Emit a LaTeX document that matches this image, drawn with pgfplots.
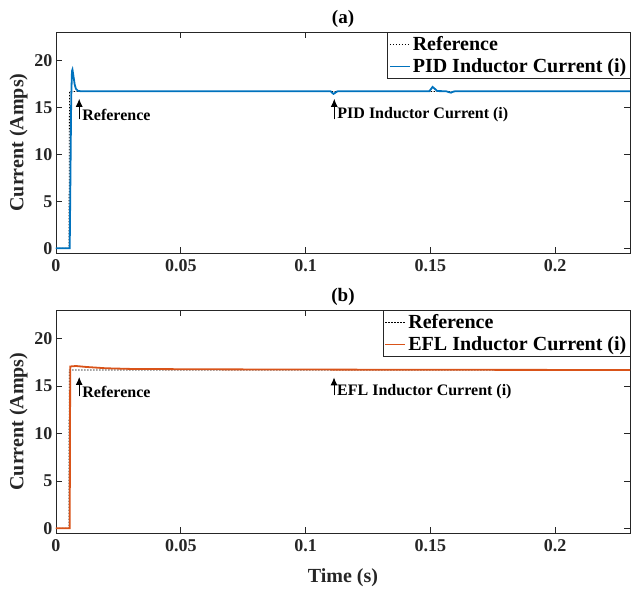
\documentclass[border=0pt]{standalone}
\usepackage{fontspec}
\setmainfont{Liberation Serif}
\usepackage{pgfplots}
\pgfplotsset{compat=1.18}
\usetikzlibrary{arrows.meta}
\definecolor{mblue}{RGB}{0,114,189}
\definecolor{morange}{RGB}{217,83,25}
\definecolor{axgray}{RGB}{38,38,38}
\tikzset{
 annfont/.style={font=\bfseries\fontsize{16bp}{16bp}\selectfont, inner sep=0pt, anchor=west, xshift=3bp},
 annarrow/.style={-{Latex[length=8bp,width=7bp]}, line width=1bp, black},
 ttlfont/.style={font=\bfseries\fontsize{19bp}{19bp}\selectfont, text=black, anchor=center, inner sep=0pt},
}
\pgfplotsset{
 myaxis/.style={
  scale only axis, width=574bp, clip mode=individual,
  xmin=0, xmax=0.23, ymin=-0.5, ymax=23,
  xtick={0,0.05,0.1,0.15,0.2}, xticklabels={0,0.05,0.1,0.15,0.2},
  ytick={0,5,10,15,20}, yticklabels={0,5,10,15,20},
  tick align=inside, major tick length=6bp,
  axis line style={axgray, line width=0.6bp},
  every tick/.style={axgray, line width=0.6bp},
  tick label style={font=\bfseries\fontsize{18bp}{18bp}\selectfont, text=axgray},
  /pgf/number format/assume math mode=true,
  xticklabel style={yshift=-3bp},
  label style={font=\bfseries\fontsize{20bp}{20bp}\selectfont, text=axgray},
  ylabel={Current (Amps)},
  ylabel style={at={(axis description cs:-0.0653,0.5)}, anchor=center},
  legend style={at={(1,1)}, anchor=north east, draw=axgray, fill=white,
    font=\bfseries\fontsize{20bp}{20bp}\selectfont, inner xsep=1.5bp, inner ysep=2bp, row sep=3bp,
    cells={anchor=west}},
  legend image code/.code={\draw[#1] (0bp,0bp) -- (20bp,0bp);},
 },
 refline/.style={black, line width=0.8bp, dash pattern=on 1.5bp off 1.5bp},
}
\begin{document}
\begin{tikzpicture}
\useasboundingbox (-56bp,32bp) rectangle (575bp,-557bp);
\begin{axis}[myaxis, height=221bp, at={(0,0)}, anchor=north west]
\addplot[refline] coordinates {(0,0) (0.0052,0) (0.0054,16.67) (0.23,16.67)};
\addlegendentry{Reference}
\addplot[mblue, line width=1.8bp] coordinates {
(0,0) (0.0055,0) (0.0058,8) (0.0061,16) (0.0064,18.85) (0.0066,19.0) (0.0070,18.3)
(0.0075,17.4) (0.0080,16.95) (0.0088,16.74) (0.010,16.7) (0.1100,16.7) (0.1106,16.55)
(0.1112,16.42) (0.1118,16.52) (0.1125,16.66) (0.1130,16.7) (0.1496,16.7) (0.1503,16.95)
(0.1509,17.16) (0.1516,17.0) (0.1528,16.72) (0.1563,16.7) (0.1575,16.6) (0.1583,16.55)
(0.1592,16.66) (0.1600,16.7) (0.23,16.7)};
\addlegendentry{PID Inductor Current (i)}
\draw[annarrow] (axis cs:0.0093,13.7) -- (axis cs:0.0093,15.9);
\node[annfont] at (axis cs:0.0093,14.2) {Reference};
\draw[annarrow] (axis cs:0.1115,13.7) -- (axis cs:0.1115,15.9);
\node[annfont] at (axis cs:0.1115,14.2) {PID Inductor Current (i)};
\node[ttlfont] at (axis description cs:0.5,1.06) {(a)};
\end{axis}
\begin{axis}[myaxis, height=223bp, at={(0,-278bp)}, anchor=north west,
  xlabel={Time (s)}, xlabel style={at={(axis description cs:0.5,-0.199)}, anchor=center}]
\addplot[refline] coordinates {(0,0) (0.0052,0) (0.0053,16.67) (0.23,16.67)};
\addlegendentry{Reference}
\addplot[morange, line width=1.8bp] coordinates {
(0,0) (0.0055,0) (0.0057,17.05) (0.008,17.1) (0.012,17.0) (0.02,16.86) (0.03,16.79)
(0.06,16.75) (0.11,16.72) (0.15,16.7) (0.23,16.68)};
\addlegendentry{EFL Inductor Current (i)}
\draw[annarrow] (axis cs:0.0093,13.9) -- (axis cs:0.0093,15.95);
\node[annfont] at (axis cs:0.0093,14.4) {Reference};
\draw[annarrow] (axis cs:0.1114,14.0) -- (axis cs:0.1114,15.9);
\node[annfont] at (axis cs:0.1114,14.4) {EFL Inductor Current (i)};
\node[ttlfont] at (axis description cs:0.5,1.06) {(b)};
\end{axis}
\end{tikzpicture}
\end{document}
